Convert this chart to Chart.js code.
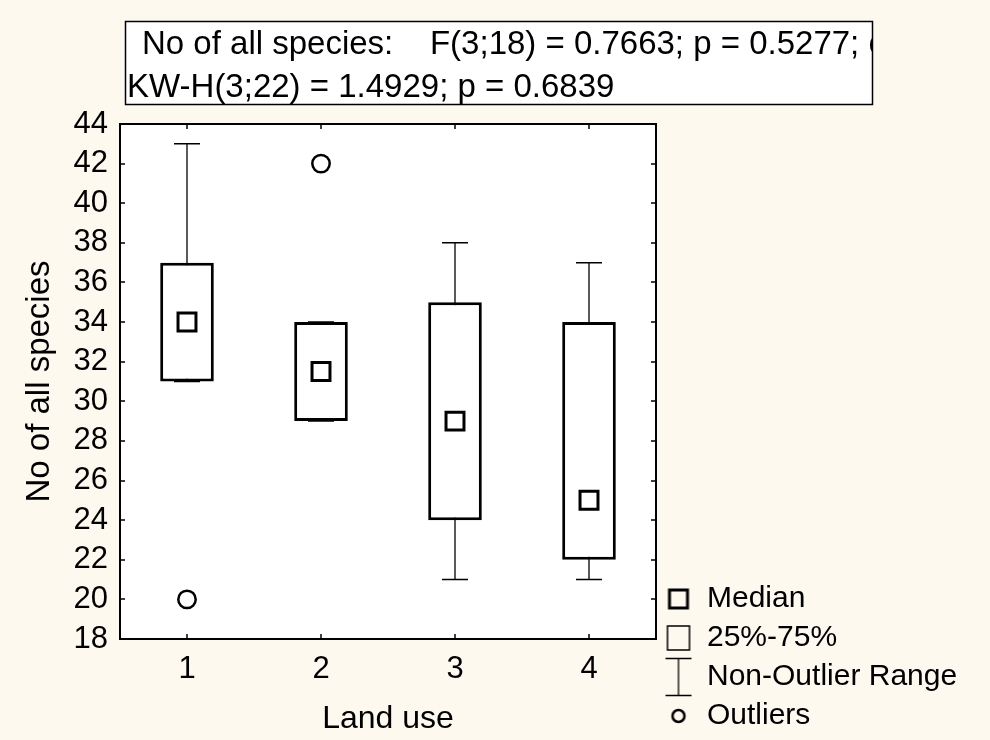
<!DOCTYPE html>
<html>
<head>
<meta charset="utf-8">
<title>No of all species</title>
<script src="https://cdn.jsdelivr.net/npm/chart.js@4.4.0/dist/chart.umd.min.js"></script>
<style>
	html, body { margin: 0; padding: 0; background: #fdf9ef; }
	#wrap { width: 990px; height: 740px; }
</style>
</head>
<body>
<div id="wrap"><canvas id="box_chart" width="990" height="740"></canvas></div>
<script>
//카테고리 (Land use)
const land_use = ['1', '2', '3', '4'];

//상자 25%-75%, 중앙값
const q1_list = [31, 29, 24, 22];
const q3_list = [37, 34, 35, 34];
const median_list = [34, 31.5, 29, 25];

//수염 (Non-Outlier Range)
const low_list = [31, 29, 21, 21];
const high_list = [43, 34, 38, 37];

//이상치
const outlier_cat = ['1', '2'];
const outlier_val = [20, 42];

//y축 눈금
const y_min = 18;
const y_max = 44;
const y_step = 2;

//통계 텍스트
const stat_lines = [
	'No of all species:    F(3;18) = 0.7663; p = 0.5277; e',
	'KW-H(3;22) = 1.4929; p = 0.6839'
];

const legend_text = ['Median', '25%-75%', 'Non-Outlier Range', 'Outliers'];

const FONT = "'Liberation Sans', Arial, sans-serif";
const BG = '#fdf9ef';


//범례 기호를 작은 캔버스로 만든다
function makeSymbol(w, h, draw) {
	const c = document.createElement('canvas');
	c.width = w;
	c.height = h;
	const ctx = c.getContext('2d');
	ctx.strokeStyle = '#000';
	draw(ctx);
	return c;
}

const legend_symbols = [
	makeSymbol(24, 24, (ctx) => {
		ctx.lineWidth = 3;
		ctx.strokeRect(3, 3, 18, 18);
	}),
	makeSymbol(26, 28, (ctx) => {
		ctx.lineWidth = 1.5;
		ctx.strokeRect(2, 2, 22, 24);
	}),
	makeSymbol(28, 40, (ctx) => {
		ctx.lineWidth = 1.3;
		ctx.beginPath();
		ctx.moveTo(1, 1.5);
		ctx.lineTo(27, 1.5);
		ctx.moveTo(14, 1.5);
		ctx.lineTo(14, 38.5);
		ctx.moveTo(1, 38.5);
		ctx.lineTo(27, 38.5);
		ctx.stroke();
	}),
	makeSymbol(18, 18, (ctx) => {
		ctx.lineWidth = 2.5;
		ctx.beginPath();
		ctx.arc(9, 9, 6, 0, Math.PI * 2);
		ctx.stroke();
	})
];


//수염: min~max 세로선 + 양끝 가로선 (상자 뒤에 그림)
const whisker_sets = land_use.map((cat, i) => ({
	type: 'line',
	data: [{x: cat, y: low_list[i]}, {x: cat, y: high_list[i]}],
	borderColor: '#000',
	borderWidth: 1.3,
	pointStyle: 'line',
	pointRadius: 13,
	pointBorderWidth: 1.5,
	pointBorderColor: '#000',
	order: 3
}));

const box_set = {
	type: 'bar',
	data: land_use.map((cat, i) => [q1_list[i], q3_list[i]]),
	backgroundColor: '#fff',
	borderColor: '#000',
	borderWidth: 3,
	borderSkipped: false,
	barPercentage: 0.4,
	categoryPercentage: 1,
	order: 2
};

const median_set = {
	type: 'line',
	data: land_use.map((cat, i) => ({x: cat, y: median_list[i]})),
	showLine: false,
	pointStyle: 'rect',
	pointRadius: 12.7,
	pointBorderWidth: 3,
	pointBackgroundColor: '#fff',
	pointBorderColor: '#000',
	order: 1
};

const outlier_set = {
	type: 'line',
	data: outlier_cat.map((cat, i) => ({x: cat, y: outlier_val[i]})),
	showLine: false,
	pointStyle: 'circle',
	pointRadius: 8.7,
	pointBorderWidth: 2.5,
	pointBackgroundColor: '#fff',
	pointBorderColor: '#000',
	order: 1
};


//배경, 테두리, 안쪽 눈금, 통계 박스
const frame_plugin = {
	id: 'frame',
	beforeDraw(chart) {
		const {ctx, chartArea: a} = chart;
		ctx.save();
		ctx.fillStyle = BG;
		ctx.fillRect(0, 0, chart.width, chart.height);
		ctx.fillStyle = '#fff';
		ctx.fillRect(a.left, a.top, a.right - a.left, a.bottom - a.top);
		ctx.restore();
	},
	afterDraw(chart) {
		const {ctx, chartArea: a, scales} = chart;
		ctx.save();
		ctx.strokeStyle = '#000';

		//안쪽 눈금
		ctx.lineWidth = 1.5;
		ctx.beginPath();
		scales.y.ticks.forEach((t, i) => {
			const py = Math.round(scales.y.getPixelForTick(i));
			ctx.moveTo(a.left, py);
			ctx.lineTo(a.left + 5, py);
			ctx.moveTo(a.right, py);
			ctx.lineTo(a.right - 5, py);
		});
		scales.x.ticks.forEach((t, i) => {
			const px = Math.round(scales.x.getPixelForTick(i));
			ctx.moveTo(px, a.top);
			ctx.lineTo(px, a.top + 5);
			ctx.moveTo(px, a.bottom);
			ctx.lineTo(px, a.bottom - 5);
		});
		ctx.stroke();

		ctx.lineWidth = 2;
		ctx.strokeRect(a.left, a.top, a.right - a.left, a.bottom - a.top);

		//통계 박스 (첫 줄은 오른쪽 끝에서 잘림)
		ctx.fillStyle = '#fff';
		ctx.fillRect(125, 21, 748, 84);
		ctx.lineWidth = 1.5;
		ctx.strokeRect(125.5, 21.5, 747, 83);
		ctx.beginPath();
		ctx.rect(126, 22, 746, 82);
		ctx.clip();
		ctx.font = '33px ' + FONT;
		ctx.fillStyle = '#000';
		ctx.textBaseline = 'middle';
		stat_lines.forEach((line, i) => {
			ctx.fillText(line, i == 0 ? 142 : 127, i == 0 ? 45 : 88);
		});
		ctx.restore();
	}
};


function makeChart() {
	const ctx = document.getElementById('box_chart');

	const config = {
		type: 'bar',
		data: {
			labels: land_use,
			datasets: [...whisker_sets, box_set, median_set, outlier_set]
		},
		options: {
			responsive: false,
			animation: false,
			devicePixelRatio: 1,
			events: [],
			layout: {
				padding: {top: 124, right: 23, bottom: 0, left: 0}
			},
			scales: {
				x: {
					type: 'category',
					offset: true,
					grid: {display: false, drawTicks: false},
					border: {display: false},
					ticks: {
						color: '#000',
						font: {family: FONT, size: 31},
						padding: 12,
						maxRotation: 0,
						autoSkip: false
					},
					title: {
						display: true,
						text: 'Land use',
						color: '#000',
						font: {family: FONT, size: 32},
						padding: {top: 0, bottom: 2}
					},
					afterFit: (s) => { s.height = 101; }
				},
				y: {
					min: y_min,
					max: y_max,
					grid: {display: false, drawTicks: false},
					border: {display: false},
					ticks: {
						stepSize: y_step,
						autoSkip: false,
						color: '#000',
						font: {family: FONT, size: 31},
						padding: 12
					},
					title: {
						display: true,
						text: 'No of all species',
						color: '#000',
						font: {family: FONT, size: 33},
						padding: {top: 20, bottom: 0}
					},
					afterFit: (s) => { s.width = 120; }
				}
			},
			plugins: {
				tooltip: {enabled: false},
				legend: {
					position: 'right',
					align: 'end',
					maxWidth: 311,
					labels: {
						usePointStyle: true,
						boxWidth: 27,
						padding: 9,
						color: '#000',
						font: {family: FONT, size: 30},
						generateLabels: () => legend_text.map((text, i) => ({
							text: text,
							pointStyle: legend_symbols[i],
							fillStyle: '#fff',
							strokeStyle: '#000',
							lineWidth: 0,
							hidden: false
						}))
					}
				}
			}
		},
		plugins: [frame_plugin]
	};

	new Chart(ctx, config);
}

makeChart();
</script>
</body>
</html>
